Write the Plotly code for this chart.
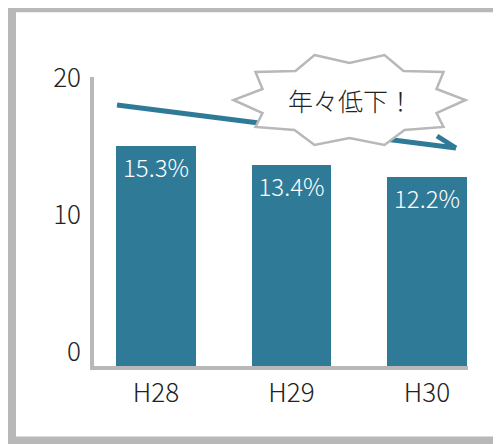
import plotly.graph_objects as go

# ---- data ----
categories = ["H28", "H29", "H30"]
rates = [15.3, 13.4, 12.2]
rate_labels = ["15.3%", "13.4%", "12.2%"]
scale_ticks = [0, 10, 20]
scale_tick_labels = ["0", "10", "20"]
callout_text = "年々低下！"

# ---- style / layout constants ----
W, H = 501, 444
OFF = 8  # page body margin: figure pixel = page pixel - OFF
ML, MR, MT, MB = 94 - OFF, 501 - (468 - OFF), 77 - OFF, 444 - (366 - OFF)
BAR_COLOR = "#2e7a97"
GRAY = "#b8b8b8"
FONT = "Noto Sans CJK JP"

pw, ph = W - ML - MR, H - MT - MB


def px(x, y):
    """page pixel -> paper coords"""
    x, y = x - OFF, y - OFF
    return ((x - ML) / pw, (H - MB - y) / ph)


def path(points, close=False):
    parts = []
    for i, (x, y) in enumerate(points):
        X, Y = px(x, y)
        parts.append(("M" if i == 0 else "L") + f"{X:.5f},{Y:.5f}")
    s = " ".join(parts)
    return s + (" Z" if close else "")


fig = go.Figure()

fig.add_trace(go.Bar(
    x=categories, y=[v + 6.7 for v in rates], base=-6.7,
    width=0.59,
    marker=dict(color=BAR_COLOR, line=dict(width=0)),
    text=rate_labels, textposition="inside", insidetextanchor="end",
    textfont=dict(color="white", size=24, family=FONT, weight=300),
    constraintext="none", cliponaxis=False,
    hoverinfo="skip", showlegend=False,
))
# invisible trace to activate the visible scale axis
fig.add_trace(go.Scatter(x=categories, y=rates, yaxis="y2", mode="markers",
                         marker=dict(opacity=0), hoverinfo="skip", showlegend=False))

# frame
frame = [(520, 8.3), (12, 8.3), (12, 440.5), (520, 440.5)]
# trend arrow
arrow_main = [(117, 105), (456, 148)]
arrow_barb = [(437, 136), (456, 148)]
# starburst callout (center 349.5,100)
cx, cy = 349.5, 100
star_rel = [(-35, -45), (0, -37), (35, -45), (54, -29), (94, -28), (87, -11),
            (116, 0), (87, 13), (94, 27), (55, 30), (35, 45), (0, 38),
            (-35, 45), (-55, 30), (-94, 27), (-87, 13), (-116, 0), (-87, -11),
            (-94, -28), (-54, -29)]
star = [(cx + dx, cy + dy) for dx, dy in star_rel]

shapes = [
    dict(type="path", xref="paper", yref="paper", path=path(frame),
         line=dict(color=GRAY, width=8), layer="above"),
    dict(type="path", xref="paper", yref="paper",
         path=path(arrow_main) + " " + path(arrow_barb),
         line=dict(color=BAR_COLOR, width=5), layer="above"),
    dict(type="path", xref="paper", yref="paper", path=path(star, close=True),
         line=dict(color=GRAY, width=2.5), fillcolor="white", layer="above"),
]

ax_, ay_ = px(cx + 0.5, cy)
tickfont = dict(size=26, color="#222222", family=FONT, weight=300)
fig.update_layout(
    width=W, height=H,
    margin=dict(l=ML, r=MR, t=MT, b=MB, pad=0),
    paper_bgcolor="white", plot_bgcolor="white",
    font=dict(family=FONT, color="#222222"),
    bargap=0,
    xaxis=dict(type="category", range=[-0.4576, 2.3026], showline=True,
               linecolor=GRAY, linewidth=4, showgrid=False, zeroline=False,
               ticks="", tickfont=tickfont, ticklabelstandoff=1,
               fixedrange=True),
    yaxis=dict(range=[-6.7, 22.2], showline=True, linecolor=GRAY, linewidth=4,
               showgrid=False, zeroline=False, showticklabels=False, ticks="",
               fixedrange=True),
    yaxis2=dict(overlaying="y", side="left", range=[-1.02, 20.05],
                tickvals=scale_ticks, ticktext=scale_tick_labels,
                showline=False, showgrid=False, zeroline=False, ticks="",
                tickfont=tickfont, ticklabelstandoff=12, fixedrange=True),
    shapes=shapes,
    annotations=[dict(x=ax_, y=ay_, xref="paper", yref="paper", text=callout_text,
                      showarrow=False,
                      font=dict(size=25, color="#222222", family=FONT, weight=300),
                      xanchor="center", yanchor="middle")],
)

fig.write_html("out.html")
